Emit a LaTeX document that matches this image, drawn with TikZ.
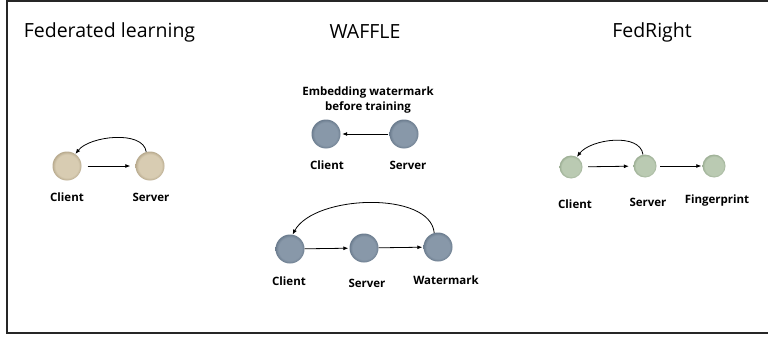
\documentclass[tikz,border=0pt]{standalone}
\usepackage{fontspec}
\setmainfont{Open Sans}
\usetikzlibrary{arrows.meta}
\definecolor{beigeIn}{HTML}{D8CCB2}
\definecolor{beigeOut}{HTML}{B8AA8E}
\definecolor{slateIn}{HTML}{8898A9}
\definecolor{slateOut}{HTML}{6B7C8E}
\definecolor{sageIn}{HTML}{BACAB2}
\definecolor{sageOut}{HTML}{9CAE94}
\pgfdeclareradialshading{beigeorb}{\pgfpointorigin}{color(0bp)=(beigeIn); color(20bp)=(beigeIn); color(25bp)=(beigeOut); color(50bp)=(beigeOut)}
\pgfdeclareradialshading{slateorb}{\pgfpointorigin}{color(0bp)=(slateIn); color(20bp)=(slateIn); color(25bp)=(slateOut); color(50bp)=(slateOut)}
\pgfdeclareradialshading{sageorb}{\pgfpointorigin}{color(0bp)=(sageIn); color(20bp)=(sageIn); color(25bp)=(sageOut); color(50bp)=(sageOut)}
\tikzset{
  titletext/.style={font=\fontsize{19.5}{22}\selectfont, anchor=center},
  lbl/.style={font=\bfseries\fontsize{11.5}{14}\selectfont, anchor=center},
  orbbig/.style={circle, minimum size=29pt, inner sep=0pt},
  orbsmall/.style={circle, minimum size=23pt, inner sep=0pt},
  beige/.style={orbbig, shading=beigeorb},
  slate/.style={orbbig, shading=slateorb},
  sage/.style={orbsmall, shading=sageorb},
  conn/.style={line width=0.8pt, -{Latex[length=5pt,width=4pt]}},
}
\begin{document}
\begin{tikzpicture}[x=1pt,y=-1pt]
\useasboundingbox (0,0) rectangle (768,337);
\fill[white] (0,0) rectangle (768,337);
\draw[line width=1.5pt, draw=black!85] (7,1) rectangle (790,333);
% titles
\node[titletext] (t1) at (109.5,32) {Federated learning};
\node[titletext] (t2) at (365,32) {WAFFLE};
\node[titletext] (t3) at (652,32) {FedRight};
% Federated learning
\node[beige] (flc) at (67,166) {};
\node[beige] (fls) at (150,166) {};
\node[lbl] (flcl) at (67,197) {Client};
\node[lbl] (flsl) at (151,197) {Server};
\draw[conn, shorten <=6pt, shorten >=5pt] (flc) -- (fls);
\draw[conn] (fls.105) .. controls +(-3,-22) and +(14,-18) .. (flc.55);
% WAFFLE top
\node[lbl, align=center] (emb) at (368,100) {Embedding watermark\\[1.5pt]before training};
\node[slate] (wc1) at (326,134) {};
\node[slate] (ws1) at (404,134) {};
\node[lbl] (wc1l) at (327,165) {Client};
\node[lbl] (ws1l) at (408,165) {Server};
\draw[conn, shorten <=1pt, shorten >=1.5pt] (ws1) -- (wc1);
% WAFFLE bottom
\node[slate] (wc2) at (290,249) {};
\node[slate] (ws2) at (364,248) {};
\node[slate] (ww2) at (438,247) {};
\node[lbl] (wc2l) at (289,281) {Client};
\node[lbl] (ws2l) at (367,283) {Server};
\node[lbl] (ww2l) at (446,280) {Watermark};
\draw[conn, shorten >=1pt] (wc2) -- (ws2);
\draw[conn, shorten >=1pt] (ws2) -- (ww2);
\draw[conn] (ww2.105) .. controls +(-4,-42) and +(22,-40) .. (wc2.80);
% FedRight
\node[sage] (frc) at (571,167) {};
\node[sage] (frs) at (645,166) {};
\node[sage] (frf) at (714,166) {};
\node[lbl] (frcl) at (575,204) {Client};
\node[lbl] (frsl) at (648,202) {Server};
\node[lbl] (frfl) at (717,201) {Fingerprint};
\draw[conn, shorten <=5.5pt, shorten >=4.5pt] (frc) -- (frs);
\draw[conn, shorten <=3.5pt, shorten >=1pt] (frs) -- (frf);
\draw[conn] (frs.100) .. controls +(-3,-22) and +(14,-18) .. (frc.60);
\end{tikzpicture}
\end{document}
